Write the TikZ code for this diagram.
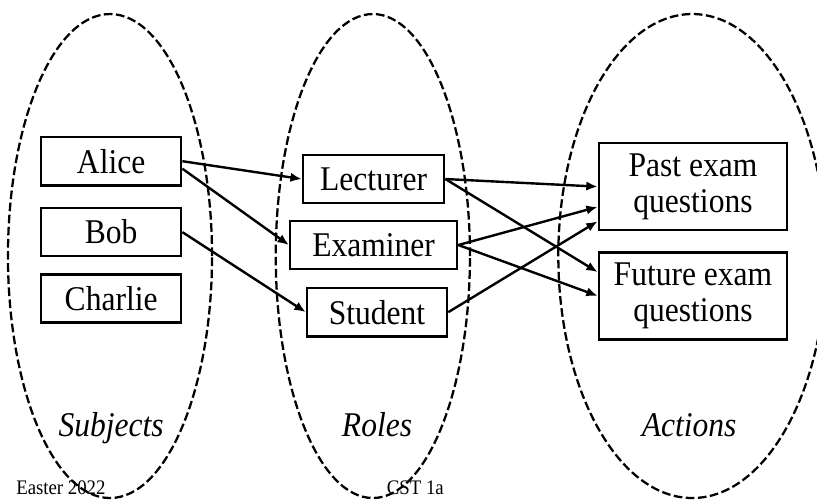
\documentclass[tikz,border=0pt]{standalone}
\usepackage{fontspec}
\setmainfont{Liberation Serif}[FakeStretch=0.91]
\usetikzlibrary{arrows.meta}

\tikzset{
  box/.style={draw, line width=1.9pt, inner sep=0pt, minimum height=1.27cm, align=center, font=\fontsize{26}{27}\selectfont},
  area/.style={line width=1.7pt, dash pattern=on 6.5pt off 2.6pt},
  tag/.style={anchor=base, font=\fontsize{26}{27}\selectfont\itshape},
  foot/.style={anchor=base west, font=\fontsize{15.5}{17}\selectfont}
}

\begin{document}
\begin{tikzpicture}[>={Latex[length=8.5pt,width=7pt]}, line width=1.8pt]
\useasboundingbox (0,0) rectangle (21.54,-13.18);

% the three areas
\draw[area] (2.90,-6.75) ellipse (2.69 and 6.38);
\draw[area] (9.83,-6.75) ellipse (2.56 and 6.38);
\draw[area] (18.25,-6.75) ellipse (3.53 and 6.38);

% subjects
\path
(2.93,-4.25) node[box, minimum width=3.69cm] (alice) {Alice}
+(0,-1.87)   node[box, minimum width=3.69cm] (bob) {Bob}
+(0,-3.62)   node[box, minimum width=3.69cm] (charlie) {Charlie}
;

% roles
\path
(9.85,-4.72) node[box, minimum width=3.72cm] (lecturer) {Lecturer}
+(0,-1.74)   node[box, minimum width=4.40cm] (examiner) {Examiner}
+(0.09,-3.51) node[box, minimum width=3.69cm] (student) {Student}
;

% actions
\path
(18.27,-4.92) node[box, minimum width=4.96cm, minimum height=2.29cm] (past) {Past exam\\questions}
+(0,-2.88)    node[box, minimum width=4.96cm, minimum height=2.29cm] (future) {Future exam\\questions}
;

\draw[->] (alice.east)--(lecturer.west);
\draw[->] (alice.354)--(examiner.west);
\draw[->] (bob.east)--(student.west);

\draw[->] (lecturer.east)--(past.west);
\draw[->] (lecturer.east)--(future.166);
\draw[->] (examiner.east)--(past.192);
\draw[->] (examiner.east)--(future.west);
\draw[->] (student.east)--(past.200);

% labels
\path
(2.93,-11.50)  node[tag] (subjects) {Subjects}
(9.94,-11.50)  node[tag] (roles) {Roles}
(18.17,-11.50) node[tag] (actions) {Actions};

\path
(0.28,-13.03)  node[foot] (term) {Easter 2022}
(10.05,-13.03) node[foot] (course) {CST 1a};

\end{tikzpicture}
\end{document}
